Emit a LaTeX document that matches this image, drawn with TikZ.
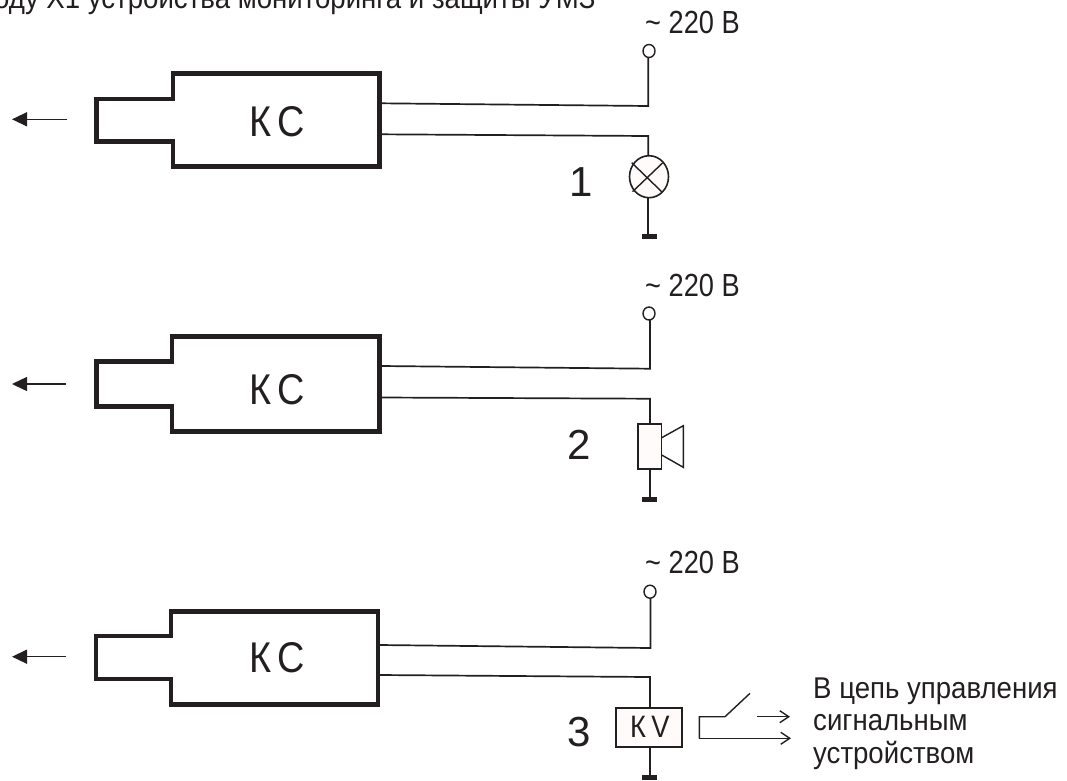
\documentclass[tikz,border=0pt]{standalone}
\usepackage{fontspec}
\setmainfont{Liberation Sans}
\newfontfamily\txtfont[FakeStretch=0.92]{Liberation Sans}
\newfontfamily\voltfont[FakeStretch=0.85]{Liberation Sans}
\newfontfamily\kcfont[FakeStretch=0.88]{Liberation Sans}
\usetikzlibrary{arrows.meta,shapes.geometric}
\definecolor{ink}{HTML}{231F20}
\definecolor{paper}{HTML}{FFFBFA}
\tikzset{
 x=1pt,y=-1pt,
 housing/.style={draw=ink,line width=4.6pt,miter limit=10},
 wire/.style={draw=ink,line width=1.7pt,line join=miter},
 thinwire/.style={draw=ink,line width=1.4pt},
 terminal/.style={ellipse,draw=ink,line width=1.4pt,fill=white,minimum width=12pt,minimum height=13pt,inner sep=0pt},
 gnd/.style={fill=ink,draw=none,minimum width=15pt,minimum height=5pt,inner sep=0pt},
 label/.style={inner sep=0pt,text=ink,anchor=base west},
 body/.style={label,font=\txtfont\fontsize{30}{32}\selectfont},
 volt/.style={label,font=\voltfont\fontsize{32}{34}\selectfont},
 kc/.style={label,font=\kcfont\fontsize{43}{45}\selectfont},
 digit/.style={label,font=\fontsize{42}{44}\selectfont},
 elem/.style={draw=ink,line width=1.6pt,fill=paper},
 pointer/.style={draw=ink,line width=1.4pt,-{Triangle[length=15pt,width=14pt]}},
 openarrow/.style={draw=ink,line width=1.4pt,-{Straight Barb[length=9pt,width=12pt]}},
}
\begin{document}
\begin{tikzpicture}
\useasboundingbox (0,0) rectangle (1067,780);
\clip (0,0) rectangle (1067,780);
\node[body] (title) at (0,8) {\hspace*{-6pt}оду Х1 устройства мониторинга и защиты УМЗ};

% Block 1
\draw[housing] (173,73.5) -- (379.5,73.5) -- (379.5,166.7) -- (173,166.7) -- (173,141.7) -- (96.5,141.7) -- (96.5,98.8) -- (173,98.8) -- cycle;
\node[kc] (k1) at (249,136) {К\hspace{6.5pt}С};
\coordinate (a1) at (67,119.3); \coordinate (a1e) at (12,119.3);
\draw[pointer] (a1) -- (a1e);
\node[terminal] (t1) at (649,51) {};
\node[volt] (v1) at (645,33) {\textasciitilde{} 220 В};
\coordinate (w1a) at (381.5,103.3); \coordinate (w1b) at (381.5,134.3);
\draw[wire] (w1a) -- (648.3,106) -- (648.3,57.5);
\node[ellipse,elem,minimum width=39pt,minimum height=42pt,inner sep=0pt] (lamp) at (649,176.7) {};
\coordinate (x1) at (631.7,162.7); \coordinate (x2) at (661.7,191.7);
\coordinate (x3) at (662.5,163); \coordinate (x4) at (632.5,191.7);
\draw[thinwire] (x1) -- (x2) (x3) -- (x4);
\node[gnd] (g1) at (649.5,236.5) {};
\draw[wire] (w1b) -- (648.3,136) -- (648.3,155.7);
\draw[wire] (648.3,197.7) -- (648.3,234);
\node[digit] (n1) at (569,196) {1};

% Block 2
\draw[housing] (172,336.5) -- (379.5,336.5) -- (379.5,431.5) -- (172,431.5) -- (172,406.5) -- (96.5,406.5) -- (96.5,361.5) -- (172,361.5) -- cycle;
\node[kc] (k2) at (249,404) {К\hspace{6.5pt}С};
\coordinate (a2) at (65.7,384); \coordinate (a2e) at (12,384);
\draw[pointer] (a2) -- (a2e);
\node[terminal] (t2) at (649,313.5) {};
\node[volt] (v2) at (645,296) {\textasciitilde{} 220 В};
\coordinate (w2a) at (381.5,366); \coordinate (w2b) at (381.5,397.5);
\draw[wire] (w2a) -- (650,368.7) -- (650,320);
\node[elem,minimum width=23.7pt,minimum height=45pt,inner sep=0pt] (spk) at (649.8,446.5) {};
\draw[thinwire,line join=miter] (661.7,437.7) -- (683.3,425.7) -- (683.3,467.3) -- (661.7,455);
\node[gnd] (g2) at (649.5,499.5) {};
\draw[wire] (w2b) -- (650,398.7) -- (650,424);
\draw[wire] (650,469) -- (650,497);
\node[digit] (n2) at (567,459) {2};

% Block 3
\draw[housing] (171,611.5) -- (378,611.5) -- (378,704.5) -- (171,704.5) -- (171,679) -- (96,679) -- (96,636) -- (171,636) -- cycle;
\node[kc] (k3) at (249,672) {К\hspace{6.5pt}С};
\coordinate (a3) at (65.5,656.7); \coordinate (a3e) at (12,656.7);
\draw[pointer] (a3) -- (a3e);
\node[terminal] (t3) at (650,591.7) {};
\node[volt] (v3) at (645,573) {\textasciitilde{} 220 В};
\coordinate (w3a) at (380,645); \coordinate (w3b) at (380,675);
\draw[wire] (w3a) -- (650.5,648) -- (650.5,598);
\node[elem,minimum width=66pt,minimum height=39pt,inner sep=0pt] (kv) at (649,727.5) {};
\node[label,font=\kcfont\fontsize{31}{33}\selectfont] (kvt) at (630,737) {К\,V};
\node[gnd] (g3) at (649.5,777.5) {};
\draw[wire] (w3b) -- (650,677) -- (650,708);
\draw[wire] (650,747) -- (650,775);
\node[digit] (n3) at (567,746) {3};
\coordinate (c1) at (725,716.7); \coordinate (c2) at (750,693.3);
\coordinate (c3) at (699.3,716.7); \coordinate (c4) at (699.3,738.3);
\coordinate (o1) at (791,738.3);
\coordinate (o2s) at (756.7,716.7); \coordinate (o2) at (790,716.7);
\draw[thinwire,line join=miter] (c2) -- (c1) -- (c3) -- (c4);
\draw[openarrow] (c4) -- (o1);
\draw[openarrow] (o2s) -- (o2);
\node[body] (l1) at (813,698) {В цепь управления};
\node[body] (l2) at (813,730) {сигнальным};
\node[body] (l3) at (813,763) {устройством};
\end{tikzpicture}
\end{document}
